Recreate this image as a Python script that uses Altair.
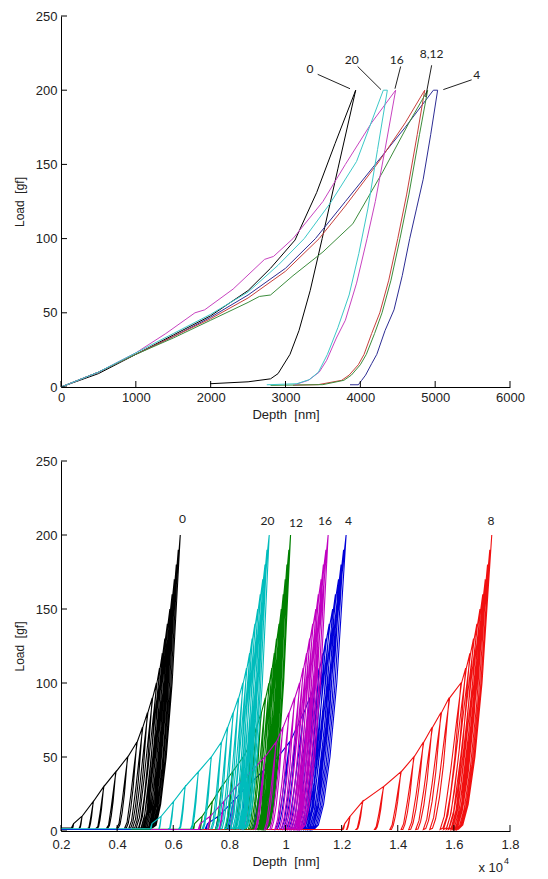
import altair as alt
import pandas as pd

FONT = "Liberation Sans, Arial, sans-serif"
NOTE_FONT = "Lato, Open Sans, sans-serif"

# ---------------- top chart: single load-unload curves (depth nm, load gf) ----------------
top_names = ["0", "4", "8", "12", "16", "20"]
top_colors = ["#000000", "#2d2d94", "#c8403c", "#3c8c3c", "#c844c0", "#3cc8c8"]

top_0_depth = [0, 500, 1000, 1500, 2000, 2500, 2800, 3127, 3416, 3662, 3938,
               3700, 3490, 3330, 3180, 3060, 2900, 2800, 2500, 1991]
top_0_load = [0, 9, 22, 35, 48, 65, 80, 99, 131, 164, 200,
              147, 100, 65, 38, 22, 9, 5.5, 3.5, 2.2]

top_4_depth = [0, 500, 1000, 1500, 2000, 2500, 3000, 3400, 3800, 4200, 4600, 4976, 5033,
               4940, 4840, 4750, 4660, 4560, 4450, 4330, 4220, 4151, 4070, 4018, 3973, 3862]
top_4_load = [0, 10, 22, 34, 47, 62, 80, 100, 125, 150, 175, 200, 200,
              170, 140, 120, 100, 75, 52, 38, 22, 15.7, 8, 4.5, 1.5, 1.5]

top_8_depth = [0, 500, 1000, 1500, 2000, 2500, 3000, 3450, 3800, 4250, 4600, 4860,
               4760, 4620, 4500, 4380, 4260, 4151, 4050, 3973, 3850, 3750, 3439, 3100]
top_8_load = [0, 10, 22, 34, 46, 60, 78, 100, 122, 152, 178, 200,
              170, 130, 100, 72, 50, 36, 22, 15, 8, 4.5, 1.6, 1.2]

top_12_depth = [0, 500, 1000, 1500, 2000, 2500, 2650, 2800, 3100, 3500, 3900, 4300, 4650, 4900,
                4790, 4650, 4530, 4410, 4290, 4190, 4080, 4000, 3880, 3780, 3500, 2800]
top_12_load = [0, 10, 22, 33, 45, 57, 61, 62, 75, 91, 110, 145, 178, 200,
               170, 130, 100, 72, 50, 36, 22, 15, 8, 4.5, 1.6, 1.1]

top_16_depth = [0, 500, 1000, 1400, 1790, 1920, 2300, 2720, 2840, 3100, 3500, 3800, 4150, 4472,
                4330, 4200, 4090, 3950, 3800, 3680, 3550, 3450, 3305, 3127]
top_16_load = [0, 10, 23, 36, 50, 52, 66, 86, 88, 100, 125, 150, 178, 200,
               160, 125, 100, 70, 45, 33, 18, 10, 4.5, 1.6]

top_20_depth = [0, 500, 1000, 1500, 2000, 2500, 2900, 3250, 3600, 3950, 4307, 4361,
                4230, 4100, 3980, 3850, 3700, 3560, 3440, 3320, 3150, 2750]
top_20_load = [0, 10, 23, 36, 49, 64, 82, 100, 124, 152, 200, 200,
               160, 120, 90, 62, 40, 22, 10, 5, 2.2, 1.5]

top_label_text = ["0", "20", "16", "8,12", "4"]
top_label_depth = [3327, 3884, 4486, 4953, 5555]
top_label_load = [214.5, 220.6, 220.6, 224.6, 210]
top_leader_x1 = [3430, 3964, 4539, 4953, 5488]
top_leader_y1 = [210.7, 216, 216, 216.8, 207]
top_leader_x2 = [3862, 4276, 4463, 4873, 5109]
top_leader_y2 = [201, 200.4, 201, 195.4, 200.4]

top_xticks = [0, 1000, 2000, 3000, 4000, 5000, 6000]
yticks = [0, 50, 100, 150, 200, 250]

# ---------------- bottom chart: multi-cycle curves (depth x 10^4 nm, load gf) ----------------
bot_loads = [5, 10, 20, 30, 40, 50, 60, 70, 80, 90, 100, 110, 120, 130, 140, 150, 160, 170, 180, 190, 200]
bot_names = ["0", "4", "8", "12", "16", "20"]
bot_colors = ["#000000", "#0000d8", "#f01010", "#008000", "#c000c0", "#00bcbc"]

bot_0_peak = [0.245, 0.275, 0.315, 0.352, 0.395, 0.437, 0.470, 0.490, 0.508, 0.525, 0.540,
              0.551, 0.561, 0.570, 0.579, 0.588, 0.596, 0.604, 0.611, 0.618, 0.625]
bot_0_resid = [0.237, 0.263, 0.295, 0.326, 0.363, 0.399, 0.427, 0.442, 0.455, 0.468, 0.478,
               0.485, 0.491, 0.496, 0.501, 0.506, 0.511, 0.515, 0.518, 0.522, 0.525]
bot_0_approach = [0.200, 0.237, 2.0]

bot_4_peak = [0.722, 0.761, 0.813, 0.861, 0.917, 0.972, 1.014, 1.040, 1.064, 1.086, 1.105,
              1.120, 1.133, 1.144, 1.156, 1.168, 1.178, 1.189, 1.198, 1.207, 1.216]
bot_4_resid = [0.713, 0.747, 0.790, 0.830, 0.880, 0.928, 0.964, 0.985, 1.003, 1.020, 1.034,
               1.044, 1.053, 1.059, 1.066, 1.074, 1.080, 1.086, 1.091, 1.096, 1.101]
bot_4_approach = [0.200, 0.713, 1.0]

bot_8_peak = [1.211, 1.230, 1.275, 1.349, 1.411, 1.457, 1.491, 1.522, 1.554, 1.583, 1.625,
              1.642, 1.657, 1.670, 1.682, 1.693, 1.703, 1.712, 1.720, 1.728, 1.735]
bot_8_resid = [1.202, 1.215, 1.251, 1.317, 1.372, 1.412, 1.439, 1.464, 1.491, 1.514, 1.551,
               1.563, 1.573, 1.581, 1.589, 1.595, 1.600, 1.605, 1.609, 1.612, 1.615]
bot_8_approach = [0.700, 1.202, 1.0]

bot_12_peak = [0.676, 0.703, 0.739, 0.772, 0.811, 0.849, 0.878, 0.896, 0.913, 0.928, 0.941,
               0.951, 0.960, 0.968, 0.977, 0.985, 0.992, 0.999, 1.005, 1.012, 1.018]
bot_12_resid = [0.670, 0.692, 0.722, 0.750, 0.784, 0.817, 0.841, 0.855, 0.868, 0.879, 0.889,
                0.895, 0.901, 0.905, 0.911, 0.916, 0.919, 0.923, 0.926, 0.930, 0.933]
bot_12_approach = [0.450, 0.670, 1.2]

bot_16_peak = [0.696, 0.732, 0.780, 0.824, 0.876, 0.926, 0.966, 0.990, 1.012, 1.032, 1.050,
               1.063, 1.075, 1.086, 1.097, 1.108, 1.117, 1.127, 1.135, 1.144, 1.152]
bot_16_resid = [0.689, 0.720, 0.761, 0.799, 0.845, 0.890, 0.925, 0.944, 0.962, 0.978, 0.992,
                1.000, 1.009, 1.016, 1.023, 1.030, 1.036, 1.042, 1.047, 1.052, 1.057]
bot_16_approach = [0.520, 0.689, 1.0]

bot_20_peak = [0.524, 0.557, 0.601, 0.642, 0.689, 0.735, 0.771, 0.793, 0.813, 0.832, 0.848,
               0.861, 0.872, 0.881, 0.891, 0.901, 0.910, 0.919, 0.927, 0.934, 0.942]
bot_20_resid = [0.518, 0.547, 0.584, 0.620, 0.662, 0.703, 0.734, 0.752, 0.768, 0.783, 0.796,
                0.805, 0.813, 0.818, 0.825, 0.831, 0.837, 0.843, 0.848, 0.852, 0.857]
bot_20_approach = [0.200, 0.518, 1.5]

bot_label_text = ["0", "20", "12", "16", "4", "8"]
bot_label_depth = [0.633, 0.936, 1.037, 1.141, 1.224, 1.732]
bot_label_load = [210.7, 209.6, 208.4, 209.6, 209.6, 209.6]

bot_xticks = [0.2, 0.4, 0.6, 0.8, 1.0, 1.2, 1.4, 1.6, 1.8]

# unloading / reloading shape of one cycle (fraction of span, fraction of peak load)
UNLOAD_SHAPE = [(0.71, 0.5), (0.5, 0.25), (0.3, 0.09), (0.14, 0.02)]
RELOAD_SHAPE = [(0.2, 0.1), (0.5, 0.4), (0.8, 0.75), (1.03, 1.0)]

W, H_TOP, H_BOT = 449, 371, 370
TICK = 6


def cycles(peak, resid, loads, approach):
    a0, a1, low = approach
    xs, ys = [a0, a1], [low, low]
    for k in range(len(loads)):
        d, r, p = peak[k], resid[k], loads[k]
        s = d - r
        xs.append(d); ys.append(p)
        for fx, fy in UNLOAD_SHAPE:
            xs.append(r + fx * s); ys.append(max(fy * p, low))
        xs.append(r); ys.append(low)
        if k < len(loads) - 1:
            for fx, fy in RELOAD_SHAPE:
                xs.append(r + fx * s); ys.append(max(fy * p, low))
    return pd.DataFrame({"depth": xs, "load": ys, "i": list(range(len(xs)))})


def make_panel(series, colors, xdom, xticks, xfmt, labels, leaders, height, lab_pad, title_pad,
               line_w, extra=None):
    xs = alt.Scale(domain=xdom, nice=False, zero=False)
    ys = alt.Scale(domain=[0, 250], nice=False)
    xa = alt.Axis(values=xticks, format=xfmt, title="Depth\u00a0 [nm]", ticks=False, grid=False,
                  labelPadding=lab_pad, titlePadding=title_pad, labelFlush=False, labelOverlap=False)
    ya = alt.Axis(values=yticks, title="Load\u00a0 [gf]", ticks=False, grid=False, labelPadding=4,
                  titlePadding=9, labelFlush=False, labelOverlap=False, titleFontSize=12)
    X = lambda f: alt.X(f, scale=xs, axis=xa)
    Y = lambda f: alt.Y(f, scale=ys, axis=ya)
    layers = []
    for df, col in zip(series, colors):
        layers.append(
            alt.Chart(df).mark_line(color=col, strokeWidth=line_w, clip=True).encode(
                x=X("depth:Q"), y=Y("load:Q"), order="i:Q",
            )
        )
    if leaders is not None:
        layers.append(
            alt.Chart(leaders).mark_rule(color="#222222", strokeWidth=1).encode(
                x=X("x1:Q"), y=Y("y1:Q"), x2="x2:Q", y2="y2:Q",
            )
        )
    layers.append(
        alt.Chart(labels).mark_text(font=NOTE_FONT, fontSize=12, color="#222222").encode(
            x=X("x:Q"), y=Y("y:Q"), text="t:N",
        )
    )
    # inward ticks (MATLAB style)
    layers.append(
        alt.Chart(pd.DataFrame({"v": xticks})).mark_rule(color="black", strokeWidth=1).encode(
            x=X("v:Q"), y=alt.value(height), y2=alt.value(height - TICK),
        )
    )
    layers.append(
        alt.Chart(pd.DataFrame({"v": yticks})).mark_rule(color="black", strokeWidth=1).encode(
            y=Y("v:Q"), x=alt.value(0), x2=alt.value(TICK),
        )
    )
    if extra:
        layers += extra
    return alt.layer(*layers).properties(width=W, height=height)


top_series = [
    pd.DataFrame({"depth": d, "load": l, "i": list(range(len(d)))})
    for d, l in [(top_0_depth, top_0_load), (top_4_depth, top_4_load), (top_8_depth, top_8_load),
                 (top_12_depth, top_12_load), (top_16_depth, top_16_load), (top_20_depth, top_20_load)]
]
top_labels = pd.DataFrame({"x": top_label_depth, "y": top_label_load, "t": top_label_text})
top_leaders = pd.DataFrame({"x1": top_leader_x1, "y1": top_leader_y1, "x2": top_leader_x2, "y2": top_leader_y2})

top = make_panel(top_series, top_colors, [0, 6000], top_xticks, "d", top_labels, top_leaders,
                 H_TOP, 4, 4, 1)

bot_series = [
    cycles(bot_0_peak, bot_0_resid, bot_loads, bot_0_approach),
    cycles(bot_4_peak, bot_4_resid, bot_loads, bot_4_approach),
    cycles(bot_8_peak, bot_8_resid, bot_loads, bot_8_approach),
    cycles(bot_12_peak, bot_12_resid, bot_loads, bot_12_approach),
    cycles(bot_16_peak, bot_16_resid, bot_loads, bot_16_approach),
    cycles(bot_20_peak, bot_20_resid, bot_loads, bot_20_approach),
]
bot_labels = pd.DataFrame({"x": bot_label_depth, "y": bot_label_load, "t": bot_label_text})

one = pd.DataFrame({"a": [0]})
exp_text = [
    alt.Chart(one).mark_text(text="x 10", font=FONT, fontSize=13, color="#222222", align="right",
                             baseline="middle").encode(x=alt.value(442), y=alt.value(407)),
    alt.Chart(one).mark_text(text="4", font=FONT, fontSize=9, color="#222222", align="left",
                             baseline="middle").encode(x=alt.value(443), y=alt.value(400)),
]

bottom = make_panel(bot_series, bot_colors, [0.2, 1.8], bot_xticks, "~g", bot_labels, None,
                    H_BOT, 7, 4, 1.1, extra=exp_text)

chart = alt.vconcat(top, bottom, spacing=34).properties(
    padding={"left": 5, "top": 2, "right": 5, "bottom": 0}, background="white"
).configure_view(strokeWidth=0).configure_axis(
    labelFont=FONT, labelFontSize=13, titleFont=FONT, titleFontSize=13, titleFontWeight="normal",
    labelColor="#222222", titleColor="#222222", domainColor="black", domainWidth=1,
)

chart.save("out.html", embed_options={"renderer": "svg", "actions": False})
